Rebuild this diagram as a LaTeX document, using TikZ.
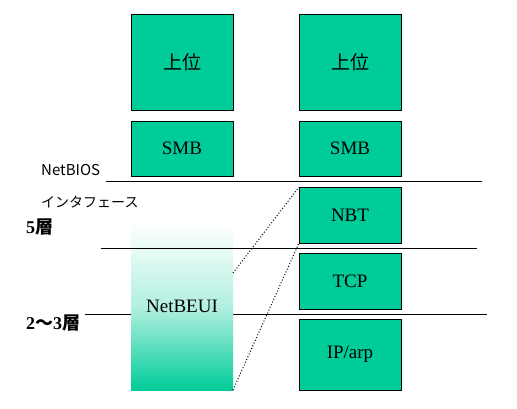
\documentclass[tikz,border=0pt]{standalone}
\usepackage{fontspec}
\setmainfont{Liberation Serif}
\newfontfamily\jpfont{Noto Sans CJK JP}
\usetikzlibrary{positioning}
\definecolor{layerfill}{HTML}{00CC99}

\begin{document}
\begin{tikzpicture}[x=1pt, y=-1pt, font=\fontsize{19}{19}\selectfont,
    layer/.style = {draw=black, line width=1pt, fill=layerfill, minimum width=102pt, inner sep=0pt, outer sep=0pt},
    fade/.style = {top color=white, bottom color=layerfill, middle color=layerfill!30, minimum width=102pt, inner sep=0pt, outer sep=0pt},
    boundary/.style = {draw=black, line width=1pt},
    link/.style = {draw=black, dotted, line width=1pt},
    lbl/.style = {anchor=west, inner sep=0pt}]
\useasboundingbox (0,0) rectangle (517,408);

% left stack
\node[layer, minimum height=96pt, anchor=north west] (ue1) at (131,14) {\jpfont 上位};
\node[layer, minimum height=55pt, below=11pt of ue1] (smb1) {SMB};

% right stack
\node[layer, minimum height=96pt, right=66pt of ue1] (ue2) {\jpfont 上位};
\node[layer, minimum height=55pt, below=11pt of ue2] (smb2) {SMB};
\node[layer, minimum height=56pt, below=11pt of smb2] (nbt) {NBT};
\node[layer, minimum height=56pt, below=10pt of nbt] (tcp) {TCP};
\node[layer, minimum height=71pt, below=10pt of tcp] (ip) {IP/arp};

% layer borders
\coordinate (b1w) at (106,181);
\coordinate (b1e) at (482,181);
\coordinate (b2w) at (101,248);
\coordinate (b2e) at (477,248);
\coordinate (b3w) at (85,314);
\coordinate (b3e) at (487,314);
\draw[boundary] (b1w) -- (b1e);
\draw[boundary] (b3w) -- (b3e);

\node[fade, minimum height=167pt, anchor=north west] (nbeui) at (131,223) {NetBEUI};
\draw[boundary] (b2w) -- (b2e);

\draw[link] ([yshift=33.5pt]nbeui.east) -- (nbt.north west);
\draw[link] (nbeui.south east) -- (nbt.south west);

% labels
\node[lbl, font=\jpfont\fontsize{15}{15}\selectfont] (nbios) at (41,170) {NetBIOS};
\node[lbl, font=\jpfont\fontsize{14}{14}\selectfont] (intf) at (41,202) {インタフェース};
\node[lbl, font=\bfseries\fontsize{18}{18}\selectfont] (l5) at (26,227) {5{\jpfont 層}};
\node[lbl, font=\bfseries\fontsize{18}{18}\selectfont] (l23) at (26,323) {2{\jpfont 〜}3{\jpfont 層}};
\end{tikzpicture}
\end{document}
